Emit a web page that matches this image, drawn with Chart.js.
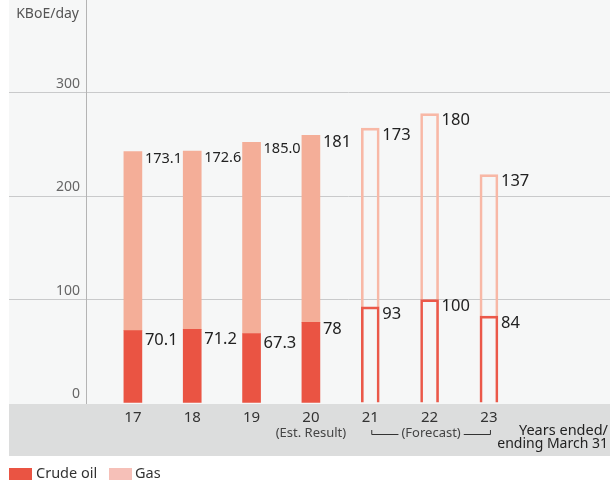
<!DOCTYPE html>
<html>
<head>
<meta charset="utf-8">
<script src="https://cdn.jsdelivr.net/npm/chart.js@4.4.1/dist/chart.umd.min.js"></script>
<style>
  html, body { margin: 0; padding: 0; background: #ffffff; }
  canvas { display: block; }
</style>
</head>
<body>
<canvas id="chart" width="610" height="486"></canvas>
<script>
// Production volume, KBoE/day, fiscal years ending March 31
const years = ['17', '18', '19', '20', '21', '22', '23'];
const crudeOil = [70.1, 71.2, 67.3, 78, 93, 100, 84];
const gas = [173.1, 172.6, 185.0, 181, 173, 180, 137];
const labelDecimals = [1, 1, 1, 0, 0, 0, 0];
const yTicks = [0, 100, 200, 300];
const estimateIndex = 3;     // year shown as estimated result
const firstForecast = 4;     // first forecast year

const FONT = '"Noto Sans", "DejaVu Sans", sans-serif';
const CRUDE = '#ea5443';
const CRUDE_LINE = '#eb5849';
const GAS = '#f4ae98';
const GAS_LINE = '#f8b8a6';
const GAS_KEY = '#f6c0b8';
const CLEAR = 'rgba(0,0,0,0)';
const GRID = '#c9cacb';

const isForecast = c => c.dataIndex >= firstForecast;

const decor = {
  id: 'decor',
  beforeDraw(chart) {
    const ctx = chart.ctx;
    const b = chart.chartArea.bottom;
    ctx.save();
    ctx.fillStyle = '#f6f7f7';
    ctx.fillRect(9, 0, 601, b + 1);
    ctx.fillStyle = '#dcdddd';
    ctx.fillRect(9, b + 1, 601, 52);
    ctx.restore();
  },
  afterDatasetsDraw(chart) {
    const ctx = chart.ctx;
    ctx.save();
    ctx.fillStyle = '#222';
    ctx.textAlign = 'left';
    ctx.textBaseline = 'middle';
    chart.data.datasets.forEach((ds, di) => {
      const meta = chart.getDatasetMeta(di);
      const values = di === 0 ? crudeOil : gas;
      meta.data.forEach((el, i) => {
        const txt = values[i].toFixed(labelDecimals[i]);
        let size = 16.5, dy = 7;
        if (di === 1 && i < estimateIndex) { size = 14.5; dy = 7; }
        if (di === 0 && i < estimateIndex) { dy = 10; }
        ctx.font = size + 'px ' + FONT;
        ctx.fillText(txt, el.x + el.width / 2 + 3, el.y + dy);
      });
    });
    ctx.restore();
  },
  afterDraw(chart) {
    const ctx = chart.ctx;
    const xs = chart.scales.x;
    ctx.save();

    // unit label
    ctx.fillStyle = '#555';
    ctx.font = '14px ' + FONT;
    ctx.textAlign = 'right';
    ctx.textBaseline = 'middle';
    ctx.fillText('KBoE/day', 79, 14);

    // notes under the year labels
    ctx.fillStyle = '#444';
    ctx.font = '13px ' + FONT;
    ctx.textAlign = 'center';
    ctx.fillText('(Est. Result)', xs.getPixelForValue(estimateIndex), 433);

    const left = xs.getPixelForValue(firstForecast) + 1;
    const right = xs.getPixelForValue(years.length - 1) + 2;
    const mid = (left + right) / 2;
    const label = '(Forecast)';
    const w = ctx.measureText(label).width;
    ctx.fillText(label, mid, 433);
    ctx.strokeStyle = '#333';
    ctx.lineWidth = 1;
    ctx.beginPath();
    ctx.moveTo(left + 0.5, 430);
    ctx.lineTo(left + 0.5, 434.5);
    ctx.lineTo(mid - w / 2 - 3, 434.5);
    ctx.moveTo(mid + w / 2 + 3, 434.5);
    ctx.lineTo(right - 0.5, 434.5);
    ctx.lineTo(right - 0.5, 430);
    ctx.stroke();

    ctx.fillStyle = '#222';
    ctx.textAlign = 'right';
    ctx.font = '14.5px ' + FONT;
    ctx.fillText('Years ended/', 608, 431);
    ctx.font = '14px ' + FONT;
    ctx.fillText('ending March 31', 608, 444);

    // legend
    ctx.textAlign = 'left';
    ctx.font = '14.5px ' + FONT;
    ctx.fillStyle = CRUDE;
    ctx.fillRect(9, 468, 23, 12);
    ctx.fillStyle = '#333';
    ctx.fillText('Crude oil', 36, 474);
    ctx.fillStyle = GAS_KEY;
    ctx.fillRect(109, 468, 23, 12);
    ctx.fillStyle = '#333';
    ctx.fillText('Gas', 135, 474);

    ctx.restore();
  }
};

new Chart(document.getElementById('chart'), {
  type: 'bar',
  data: {
    datasets: [
      {
        label: 'Crude oil',
        data: crudeOil.map((v, i) => ({ x: i, y: v })),
        barThickness: 18,
        backgroundColor: c => isForecast(c) ? CLEAR : CRUDE,
        borderColor: CRUDE_LINE,
        borderWidth: c => isForecast(c) ? 2 : 0,
        borderSkipped: 'bottom'
      },
      {
        label: 'Gas',
        data: gas.map((v, i) => ({ x: i, y: v })),
        barThickness: 18,
        backgroundColor: c => isForecast(c) ? CLEAR : GAS,
        borderColor: GAS_LINE,
        borderWidth: c => isForecast(c) ? 2 : 0,
        borderSkipped: 'bottom'
      }
    ]
  },
  options: {
    responsive: false,
    animation: false,
    events: [],
    layout: { padding: { left: 9, right: 0, top: 0, bottom: 0 } },
    plugins: {
      legend: { display: false },
      tooltip: { enabled: false }
    },
    scales: {
      x: {
        type: 'linear',
        min: -0.79,
        max: 8.04,
        offset: false,
        stacked: true,
        afterBuildTicks: s => { s.ticks = years.map((_, i) => ({ value: i })); },
        afterFit: s => { s.height = 83; s.paddingLeft = 0; s.paddingRight = 0; },
        grid: { display: false, drawTicks: false, offset: false },
        border: { display: false },
        ticks: {
          padding: 6,
          color: '#333',
          font: { family: FONT, size: 15 },
          autoSkip: false,
          maxRotation: 0,
          callback: v => years[v] ?? ''
        }
      },
      y: {
        min: 0,
        max: 390,
        stacked: true,
        afterBuildTicks: s => { s.ticks = yTicks.map(v => ({ value: v })); },
        afterFit: s => { s.width = 77; s.paddingTop = 0; s.paddingBottom = 0; },
        grid: {
          color: c => (c.tick && c.tick.value === 0) ? CLEAR : GRID,
          tickColor: c => (c.tick && c.tick.value === 0) ? CLEAR : GRID,
          lineWidth: 1,
          drawTicks: true,
          tickLength: 77
        },
        border: { display: true, color: '#b4b4b4', width: 1 },
        ticks: {
          padding: -71,
          labelOffset: -9,
          color: '#666',
          font: { family: FONT, size: 14 },
          callback: v => String(v)
        }
      }
    }
  },
  plugins: [decor]
});
</script>
</body>
</html>
